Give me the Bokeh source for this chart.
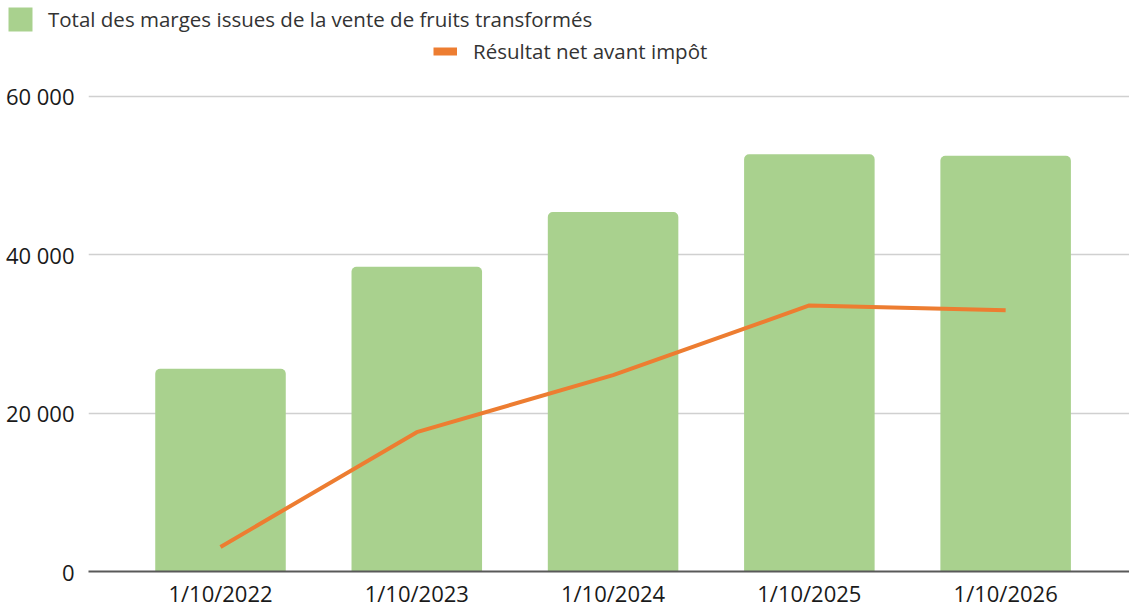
from bokeh.plotting import figure
from bokeh.layouts import column
from bokeh.models import (ColumnDataSource, FixedTicker, CustomJSTickFormatter,
                          Legend, LegendItem, Range1d)
from bokeh.embed import file_html
from bokeh.resources import INLINE

# ---- data ----
dates = ["1/10/2022", "1/10/2023", "1/10/2024", "1/10/2025", "1/10/2026"]
marges = [25600, 38500, 45400, 52700, 52500]
resultat = [3100, 17600, 24800, 33600, 33000]
y_ticks = [0, 20000, 40000, 60000]
label_marges = "Total des marges issues de la vente de fruits transformés"
label_resultat = "Résultat net avant impôt"

GREEN = "#A9D18E"
ORANGE = "#ED7D31"
FONT = "Open Sans"
W = 1129
LEG_H = 70

xs = list(range(len(dates)))
src = ColumnDataSource(dict(x=xs, marges=marges, resultat=resultat))

# ---------- main chart ----------
p = figure(width=W, height=610 - LEG_H, output_backend="svg", toolbar_location=None,
           x_range=(-0.6725, 4.631), y_range=(0, 60250),
           min_border_left=88, min_border_right=0, min_border_top=96 - LEG_H - 2,
           min_border_bottom=0, outline_line_color=None, frame_align=False)

bars = p.vbar(x="x", top="marges", width=0.665, source=src, fill_color=GREEN,
              line_color=None, border_radius=(5, 5, 0, 0))
line = p.line(x="x", y="resultat", source=src, line_color=ORANGE, line_width=4)

p.xaxis.ticker = FixedTicker(ticks=xs)
p.xaxis.major_label_overrides = {i: d for i, d in enumerate(dates)}
p.xaxis.major_tick_line_color = None
p.xaxis.major_tick_out = 0
p.xaxis.minor_tick_out = 0
p.xaxis.minor_tick_line_color = None
p.xaxis.axis_line_color = "#595959"
p.xaxis.axis_line_width = 2
p.xaxis.major_label_standoff = 6
p.xaxis.major_label_text_font = FONT
p.xaxis.major_label_text_font_size = "22px"
p.xaxis.major_label_text_color = "#1a1a1a"

p.yaxis.ticker = FixedTicker(ticks=y_ticks)
p.yaxis.formatter = CustomJSTickFormatter(
    code="return tick.toFixed(0).replace(/\\B(?=(\\d{3})+(?!\\d))/g, ' ');")
p.yaxis.axis_line_color = None
p.yaxis.major_tick_line_color = None
p.yaxis.major_tick_out = 0
p.yaxis.minor_tick_out = 0
p.yaxis.minor_tick_line_color = None
p.yaxis.major_label_standoff = 14
p.yaxis.major_label_text_font = FONT
p.yaxis.major_label_text_font_size = "22px"
p.yaxis.major_label_text_color = "#1a1a1a"

p.xgrid.grid_line_color = None
p.ygrid.grid_line_color = "#D0D0D0"
p.ygrid.grid_line_width = 1.5

# ---------- legend strip (swatch renderers sit outside its visible ranges) ----------
lf = figure(width=W, height=LEG_H, output_backend="svg", toolbar_location=None,
            x_range=Range1d(100, 101), y_range=Range1d(-2, -1),
            min_border=0, outline_line_color=None, frame_align=False)
lf.axis.visible = False
lf.grid.visible = False
sw_bar = lf.vbar(x="x", top="marges", width=0.665, source=src, fill_color=GREEN,
                 line_color=None, border_radius=4)
sw_line = lf.line(x="x", y="resultat", source=src, line_color=ORANGE, line_width=8)

def make_legend(item, loc, gw, gh, standoff):
    return Legend(items=[item], location=loc, orientation="horizontal",
                  glyph_width=gw, glyph_height=gh, label_standoff=standoff,
                  padding=0, margin=0, spacing=0,
                  border_line_color=None, background_fill_alpha=0,
                  label_text_font=FONT, label_text_font_size="20.5px",
                  label_text_color="#333333", label_height=24)

leg1 = make_legend(LegendItem(label=label_marges, renderers=[sw_bar]),
                   (5, LEG_H - 34), 30, 30, 13)
leg2 = make_legend(LegendItem(label=label_resultat, renderers=[sw_line]),
                   (433, LEG_H - 65), 24, 24, 16)
lf.add_layout(leg1)
lf.add_layout(leg2)

layout = column(lf, p, spacing=0)
open("out.html", "w").write(file_html(layout, INLINE))
